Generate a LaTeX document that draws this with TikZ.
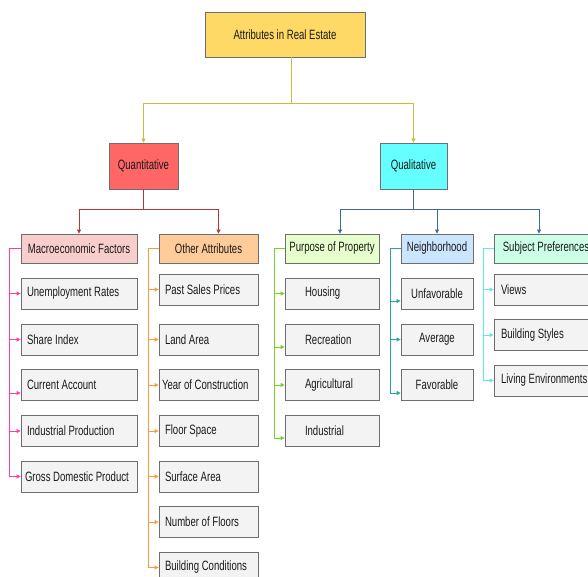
\documentclass[tikz,border=0pt]{standalone}
\usepackage{fontspec}
\setmainfont{Liberation Sans}[FakeStretch=0.71]
\usetikzlibrary{
	arrows.meta,
	positioning
}
\definecolor{boxline}{HTML}{6E6E6E}
\definecolor{textdark}{HTML}{1A1A1A}
\definecolor{rootfill}{HTML}{FFD966}
\definecolor{quantfill}{HTML}{FF6666}
\definecolor{qualfill}{HTML}{66FFFF}
\definecolor{macrofill}{HTML}{F8CECC}
\definecolor{otherfill}{HTML}{FFCC99}
\definecolor{purposefill}{HTML}{E6FFCC}
\definecolor{neighfill}{HTML}{CCE5FF}
\definecolor{subjfill}{HTML}{CCFFE6}
\definecolor{itemfill}{HTML}{F3F3F3}
\definecolor{rootline}{HTML}{C2C23A}
\definecolor{quantline}{HTML}{B03A3A}
\definecolor{qualline}{HTML}{3F6A94}
\definecolor{macroline}{HTML}{FF3FA0}
\definecolor{otherline}{HTML}{FF9A3C}
\definecolor{purposeline}{HTML}{74D12A}
\definecolor{neighline}{HTML}{2AA5A5}
\definecolor{subjline}{HTML}{5EE8F5}
\tikzset{every path/.append style={line width=0.8pt}}
\tikzset{every path/.append style={>={Triangle[length=4pt,width=4pt]}}}
\tikzset{
	box/.style={draw=boxline,text=textdark,font=\fontsize{13.5}{15}\selectfont,inner sep=0pt},
	head/.style={box,fill=#1,minimum height=29pt},
	item/.style={box,fill=itemfill,minimum height=31pt}
}
\newcommand{\tikzBox}[4][]{\node (#3) at #2 [box,#1]{#4};}
\newcommand{\tikzItem}[5][]{\node (#3) at #2 [item,#1]{\makebox[#4][l]{#5}};}

\begin{document}
\begin{tikzpicture}[x=1pt,y=-1pt]
	\path[use as bounding box,fill=white] (0,0) rectangle (588,577);

	\tikzBox[fill=rootfill,minimum width=160pt,minimum height=45pt]{(285,34.5)}{root}{Attributes in Real Estate}
	\tikzBox[fill=quantfill,minimum width=69pt,minimum height=46pt]{(143.5,166)}{quant}{Quantitative}
	\tikzBox[fill=qualfill,minimum width=67pt,minimum height=46pt]{(413.5,166)}{qual}{Qualitative}

	\tikzBox[head=macrofill,minimum width=116pt]{(79,248.5)}{macro}{Macroeconomic Factors}
	\tikzBox[head=otherfill,minimum width=99pt]{(208.5,248.5)}{other}{Other Attributes}
	\tikzBox[head=purposefill,minimum width=94pt]{(332,248.5)}{purpose}{Purpose of Property}
	\tikzBox[head=neighfill,minimum width=72pt]{(437,248.5)}{neigh}{Neighborhood}
	\tikzBox[head=subjfill,minimum width=104pt]{(546,248.5)}{subj}{Subject Preferences}

	% macroeconomic factors
	\tikzItem[inner xsep=6pt]{(79,293.5)}{unemp}{104pt}{Unemployment Rates}
	\tikzItem[inner xsep=6pt]{(79,339.5)}{shareidx}{104pt}{Share Index}
	\tikzItem[inner xsep=6pt]{(79,385)}{curacc}{104pt}{Current Account}
	\tikzItem[inner xsep=6pt]{(79,431)}{indprod}{104pt}{Industrial Production}
	\tikzItem[inner xsep=4pt]{(79,476.5)}{gdp}{108pt}{Gross Domestic Product}

	% other attributes
	\tikzItem[inner xsep=6pt]{(208.5,289.5)}{pastsales}{87pt}{Past Sales Prices}
	\tikzItem[inner xsep=6pt]{(208.5,339.5)}{landarea}{87pt}{Land Area}
	\tikzItem[inner xsep=3pt]{(208.5,385)}{yearcons}{93pt}{Year of Construction}
	\tikzItem[inner xsep=6pt]{(208.5,431)}{floorspace}{87pt}{Floor Space}
	\tikzItem[inner xsep=6pt]{(208.5,476.5)}{surfarea}{87pt}{Surface Area}
	\tikzItem[inner xsep=6pt]{(208.5,522)}{floors}{87pt}{Number of Floors}
	\tikzItem[inner xsep=6pt]{(208.5,567.5)}{buildcond}{87pt}{Building Conditions}

	% purpose of property
	\tikzItem[inner xsep=20pt]{(332,293.5)}{housing}{54pt}{Housing}
	\tikzItem[inner xsep=20pt]{(332,339.5)}{recreation}{54pt}{Recreation}
	\tikzItem[inner xsep=20pt]{(332,385)}{agricultural}{54pt}{Agricultural}
	\tikzItem[inner xsep=20pt]{(332,431)}{industrial}{54pt}{Industrial}

	% neighborhood
	\tikzBox[item,minimum width=72pt]{(437,293.5)}{unfav}{Unfavorable}
	\tikzBox[item,minimum width=72pt]{(437,339.5)}{average}{Average}
	\tikzBox[item,minimum width=72pt]{(437,385)}{fav}{Favorable}

	% subject preferences
	\tikzItem[inner xsep=7pt]{(549,289.5)}{views}{96pt}{Views}
	\tikzItem[inner xsep=7pt]{(549,335)}{bstyles}{96pt}{Building Styles}
	\tikzItem[inner xsep=7pt]{(549,380.5)}{livenv}{96pt}{Living Environments}

	\draw[rootline,->] ([xshift=6pt]root.south) -- ++(0,46) -| (quant.north);
	\draw[rootline,->] ([xshift=6pt]root.south) -- ++(0,46) -| (qual.north);

	\draw[quantline,->] (quant.south) -- ++(0,20) -| (macro.north);
	\draw[quantline,->] (quant.south) -- ++(0,20) -| ([xshift=10pt]other.north);

	\draw[qualline,->] (qual.south) -- ++(0,20) -| ([xshift=8pt]purpose.north);
	\draw[qualline,->] (qual.south) -- ++(0,20) -| (neigh.north);
	\draw[qualline,->] (qual.south) -- ++(0,20) -| ([xshift=-7pt]subj.north);

	\foreach \n/\dy in {unemp/0,shareidx/0,curacc/-8,indprod/0,gdp/0}
		\draw[macroline,->] (macro.west) -- ++(-11,0) |- ([yshift=\dy pt]\n.west);
	\foreach \n in {pastsales,landarea,yearcons,floorspace,surfarea,floors,buildcond}
		\draw[otherline,->] (other.west) -- ++(-10,0) |- (\n.west);
	\foreach \n/\dy in {housing/0,recreation/-7.5,agricultural/0,industrial/-7}
		\draw[purposeline,->] (purpose.west) -- ++(-10,0) |- ([yshift=\dy pt]\n.west);
	\foreach \n/\dy in {unfav/-7.5,average/0,fav/-8}
		\draw[neighline,->] (neigh.west) -- ++(-10,0) |- ([yshift=\dy pt]\n.west);
	\foreach \n in {views,bstyles,livenv}
		\draw[subjline,->] (subj.west) -- ++(-10,0) |- (\n.west);
\end{tikzpicture}
\end{document}
